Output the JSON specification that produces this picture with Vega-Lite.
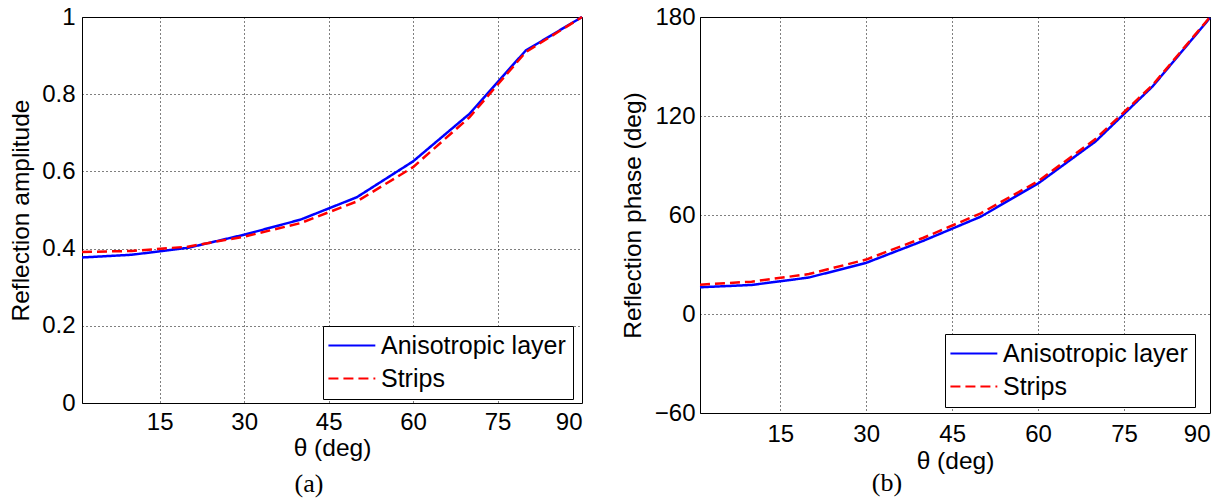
{
  "$schema": "https://vega.github.io/schema/vega-lite/v6.json",
  "background": "white",
  "padding": {"left": 8, "top": 4, "right": 5, "bottom": 5},
  "spacing": 31,
  "config": {
    "font": "Liberation Sans",
    "view": {"stroke": "black", "strokeWidth": 1},
    "axis": {
      "labelFont": "Liberation Sans", "labelFontSize": 24, "labelColor": "black",
      "titleFont": "Liberation Sans", "titleFontSize": 24.5, "titleFontWeight": "normal", "titleColor": "black",
      "grid": true, "gridColor": "black", "gridDash": [1, 3], "gridOpacity": 1, "gridWidth": 1,
      "domain": false, "ticks": false
    },
    "legend": {
      "labelFont": "Liberation Sans", "labelFontSize": 25, "labelColor": "black", "labelLimit": 400,
      "symbolStrokeWidth": 2.2, "padding": 7, "rowPadding": 7,
      "strokeColor": "black", "fillColor": "white", "cornerRadius": 0
    },
    "title": {"font": "Liberation Serif", "fontSize": 26, "fontWeight": "normal", "orient": "bottom", "color": "black"}
  },
  "datasets": {
    "amp": [
      {"theta": 1.2, "value": 0.377, "series": "Anisotropic layer"},
      {"theta": 10, "value": 0.384, "series": "Anisotropic layer"},
      {"theta": 20, "value": 0.402, "series": "Anisotropic layer"},
      {"theta": 30, "value": 0.436, "series": "Anisotropic layer"},
      {"theta": 40, "value": 0.475, "series": "Anisotropic layer"},
      {"theta": 50, "value": 0.533, "series": "Anisotropic layer"},
      {"theta": 60, "value": 0.626, "series": "Anisotropic layer"},
      {"theta": 70, "value": 0.749, "series": "Anisotropic layer"},
      {"theta": 80, "value": 0.913, "series": "Anisotropic layer"},
      {"theta": 90, "value": 1.0, "series": "Anisotropic layer"},
      {"theta": 1.2, "value": 0.391, "series": "Strips"},
      {"theta": 10, "value": 0.394, "series": "Strips"},
      {"theta": 20, "value": 0.405, "series": "Strips"},
      {"theta": 30, "value": 0.431, "series": "Strips"},
      {"theta": 40, "value": 0.466, "series": "Strips"},
      {"theta": 50, "value": 0.522, "series": "Strips"},
      {"theta": 60, "value": 0.611, "series": "Strips"},
      {"theta": 70, "value": 0.740, "series": "Strips"},
      {"theta": 80, "value": 0.909, "series": "Strips"},
      {"theta": 90, "value": 1.0, "series": "Strips"}
    ],
    "phase": [
      {"theta": 1, "value": 16.2, "series": "Anisotropic layer"},
      {"theta": 10, "value": 17.6, "series": "Anisotropic layer"},
      {"theta": 20, "value": 22.1, "series": "Anisotropic layer"},
      {"theta": 30, "value": 31.0, "series": "Anisotropic layer"},
      {"theta": 40, "value": 44.4, "series": "Anisotropic layer"},
      {"theta": 50, "value": 59.0, "series": "Anisotropic layer"},
      {"theta": 60, "value": 79.1, "series": "Anisotropic layer"},
      {"theta": 70, "value": 104.5, "series": "Anisotropic layer"},
      {"theta": 80, "value": 138.0, "series": "Anisotropic layer"},
      {"theta": 90, "value": 179.5, "series": "Anisotropic layer"},
      {"theta": 1, "value": 17.8, "series": "Strips"},
      {"theta": 10, "value": 19.6, "series": "Strips"},
      {"theta": 20, "value": 24.2, "series": "Strips"},
      {"theta": 30, "value": 33.0, "series": "Strips"},
      {"theta": 40, "value": 46.2, "series": "Strips"},
      {"theta": 50, "value": 61.0, "series": "Strips"},
      {"theta": 60, "value": 80.5, "series": "Strips"},
      {"theta": 70, "value": 106.0, "series": "Strips"},
      {"theta": 80, "value": 138.8, "series": "Strips"},
      {"theta": 90, "value": 180.0, "series": "Strips"}
    ]
  },
  "resolve": {"scale": {"color": "independent", "strokeDash": "independent"}},
  "hconcat": [
    {
      "width": 500, "height": 386,
      "title": {"text": "(a)", "dx": -23, "offset": 11},
      "data": {"name": "amp"},
      "mark": {"type": "line", "strokeWidth": 2.5},
      "encoding": {
        "x": {"field": "theta", "type": "quantitative",
          "scale": {"domain": [1.2, 90], "nice": false, "zero": false},
          "axis": {"values": [15, 30, 45, 60, 75, 90], "title": "θ (deg)", "labelPadding": 7, "titlePadding": 2}},
        "y": {"field": "value", "type": "quantitative",
          "scale": {"domain": [0, 1], "nice": false},
          "axis": {"values": [0, 0.2, 0.4, 0.6, 0.8, 1], "format": "~g", "title": "Reflection amplitude", "labelPadding": 7, "titlePadding": 8}},
        "color": {"field": "series", "type": "nominal",
          "scale": {"domain": ["Anisotropic layer", "Strips"], "range": ["#0000ff", "#ff0000"]},
          "legend": {"title": null, "orient": "none", "legendX": 241, "legendY": 309, "symbolType": "M-3,0H7", "symbolSize": 88, "labelOffset": 26}},
        "strokeDash": {"field": "series", "type": "nominal",
          "scale": {"domain": ["Anisotropic layer", "Strips"], "range": [[1, 0], [10, 5]]},
          "legend": {"title": null, "orient": "none", "legendX": 241, "legendY": 309, "symbolType": "M-3,0H7", "symbolSize": 88, "labelOffset": 26}}
      }
    },
    {
      "width": 510, "height": 396,
      "title": {"text": "(b)", "dx": -68, "offset": -3},
      "data": {"name": "phase"},
      "mark": {"type": "line", "strokeWidth": 2.5},
      "encoding": {
        "x": {"field": "theta", "type": "quantitative",
          "scale": {"domain": [1, 90], "nice": false, "zero": false},
          "axis": {"values": [15, 30, 45, 60, 75, 90], "title": "θ (deg)", "labelPadding": 9, "titlePadding": 3}},
        "y": {"field": "value", "type": "quantitative",
          "scale": {"domain": [-60, 180], "nice": false},
          "axis": {"values": [-60, 0, 60, 120, 180], "title": "Reflection phase (deg)", "labelPadding": 5, "titlePadding": 9}},
        "color": {"field": "series", "type": "nominal",
          "scale": {"domain": ["Anisotropic layer", "Strips"], "range": ["#0000ff", "#ff0000"]},
          "legend": {"title": null, "orient": "none", "legendX": 245, "legendY": 317, "symbolType": "M-3,0H7", "symbolSize": 88, "labelOffset": 26}},
        "strokeDash": {"field": "series", "type": "nominal",
          "scale": {"domain": ["Anisotropic layer", "Strips"], "range": [[1, 0], [10, 5]]},
          "legend": {"title": null, "orient": "none", "legendX": 245, "legendY": 317, "symbolType": "M-3,0H7", "symbolSize": 88, "labelOffset": 26}}
      }
    }
  ]
}
